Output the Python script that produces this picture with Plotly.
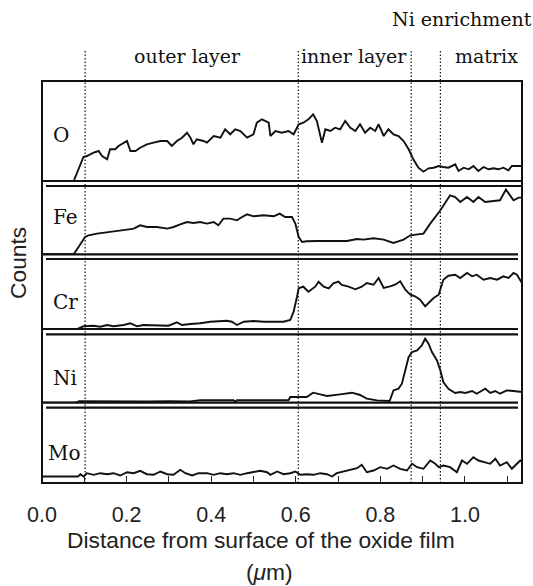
import plotly.graph_objects as go

# ---------------- data (x in um, counts in arbitrary units above each baseline) -------------
o_x = [0.0, 0.075, 0.098, 0.106, 0.122, 0.134, 0.142, 0.154, 0.161, 0.173, 0.181, 0.193, 0.201, 0.209,
       0.221, 0.232, 0.248, 0.264, 0.280, 0.296, 0.307, 0.319, 0.331, 0.343, 0.351, 0.358, 0.366, 0.382,
       0.390, 0.406, 0.422, 0.433, 0.445, 0.457, 0.469, 0.485, 0.500, 0.508, 0.520, 0.536, 0.540, 0.552,
       0.567, 0.583, 0.595, 0.607, 0.618, 0.630, 0.641, 0.650, 0.656, 0.662, 0.670, 0.682, 0.693, 0.705,
       0.717, 0.729, 0.741, 0.752, 0.764, 0.776, 0.788, 0.796, 0.808, 0.819, 0.831, 0.843, 0.855, 0.867,
       0.878, 0.890, 0.902, 0.914, 0.926, 0.938, 0.949, 0.961, 0.977, 0.985, 0.997, 1.009, 1.020, 1.032,
       1.044, 1.056, 1.068, 1.079, 1.091, 1.103, 1.111, 1.123, 1.135]
o_counts = [0, 0, 24, 25, 28.3, 30, 25, 21.7, 31.7, 31.7, 35, 38.3, 40, 30,
            30, 33.3, 36.7, 38.3, 40, 40, 35, 40, 43.3, 48.3, 43.3, 36.7, 41.7, 40,
            38.3, 45, 43.3, 51.7, 46.7, 51.7, 50, 43.3, 46.7, 58.3, 61.7, 58.3, 45, 50,
            48.3, 50, 46.7, 56.7, 58.3, 61.7, 66.7, 60, 50, 38.3, 51.7, 50, 53.3, 51.7,
            60, 53.3, 50, 56.7, 48.3, 53.3, 50, 56.7, 45, 51.7, 46.7, 45, 40, 31.7,
            21.7, 13.3, 9.3, 12.7, 13.3, 15, 14, 13.3, 16.7, 10, 13.3, 11.7, 15, 10,
            14, 11.7, 12.7, 11.7, 13.3, 10.7, 15, 15, 15]

fe_x = [0.0, 0.075, 0.102, 0.110, 0.130, 0.154, 0.177, 0.201, 0.217, 0.232, 0.248, 0.272, 0.296, 0.311,
        0.327, 0.343, 0.358, 0.374, 0.390, 0.406, 0.417, 0.429, 0.445, 0.461, 0.473, 0.485, 0.500, 0.524,
        0.548, 0.562, 0.575, 0.591, 0.599, 0.607, 0.615, 0.626, 0.650, 0.689, 0.721, 0.745, 0.760, 0.784,
        0.808, 0.831, 0.855, 0.871, 0.887, 0.902, 0.918, 0.942, 0.965, 0.977, 0.989, 1.005, 1.020, 1.032,
        1.048, 1.068, 1.083, 1.097, 1.107, 1.115, 1.127, 1.135]
fe_counts = [0, 0, 17.3, 19, 20.7, 22.3, 23.3, 24.7, 25.7, 29, 27.3, 27.3, 25.7, 27.3,
             30, 32.3, 31.3, 32.3, 30.7, 32.3, 29, 35.7, 35.7, 34, 37.3, 40, 38, 39,
             38, 40.7, 37.3, 37.3, 30.7, 17.3, 12.3, 13, 13.3, 13.3, 13.3, 15.3, 14.7, 16,
             14.7, 11.3, 14.7, 19, 20, 20.7, 30.7, 44, 59, 57.3, 52.3, 57.3, 52.3, 57.3,
             52.3, 53.3, 54, 64.7, 59, 54, 56.7, 56.7]

cr_x = [0.0, 0.083, 0.098, 0.122, 0.138, 0.154, 0.169, 0.193, 0.209, 0.225, 0.240, 0.272, 0.299, 0.319,
        0.331, 0.351, 0.374, 0.398, 0.422, 0.437, 0.449, 0.461, 0.477, 0.500, 0.524, 0.548, 0.571, 0.587,
        0.595, 0.603, 0.607, 0.618, 0.630, 0.646, 0.654, 0.666, 0.678, 0.689, 0.701, 0.709, 0.725, 0.741,
        0.756, 0.768, 0.784, 0.796, 0.808, 0.823, 0.835, 0.847, 0.859, 0.871, 0.882, 0.894, 0.906, 0.914,
        0.926, 0.938, 0.949, 0.961, 0.977, 0.989, 1.005, 1.017, 1.028, 1.044, 1.060, 1.076, 1.091, 1.103,
        1.115, 1.123, 1.131, 1.135]
cr_counts = [0, 0, 2.7, 3.3, 2.3, 4, 2.7, 4, 5.7, 2.7, 4, 3.3, 3.3, 6.7,
             4, 5, 5.7, 7.3, 8.3, 8.3, 7.3, 4, 7.3, 8, 7.3, 7.3, 7.3, 9,
             17.3, 32.3, 40.7, 42.3, 37.3, 42.3, 47.3, 42.3, 40.7, 45.7, 47.3, 44, 42.3, 39.7,
             42.3, 46, 44.3, 51, 41, 42.7, 44.3, 47.7, 39.3, 34.3, 32.7, 29.3, 22.7, 26,
             31, 34.3, 49.3, 53.3, 54.3, 51, 56, 52.7, 54.3, 49.3, 51, 49.3, 52.7, 51,
             56, 54.3, 47.7, 46]

ni_x = [0.0, 0.080, 0.088, 0.130, 0.200, 0.250, 0.300, 0.350, 0.374, 0.453, 0.457, 0.461, 0.583, 0.587,
        0.626, 0.641, 0.658, 0.674, 0.705, 0.733, 0.752, 0.768, 0.792, 0.812, 0.822, 0.831, 0.843, 0.851,
        0.859, 0.867, 0.875, 0.887, 0.898, 0.906, 0.914, 0.922, 0.934, 0.942, 0.949, 0.961, 0.977, 0.989,
        1.001, 1.017, 1.028, 1.048, 1.060, 1.072, 1.083, 1.099, 1.115, 1.131, 1.135]
ni_counts = [0, 0, 1.5, 1.3, 1.5, 1.2, 1.5, 1.3, 2.5, 2.5, 1, 2.5, 2.5, 5.7,
             5.7, 10, 8.3, 6.7, 8.3, 10, 7.7, 4, 2.3, 2.3, 1.7, 12.3, 14, 19,
             32.3, 45.7, 50.7, 52.3, 57.3, 64, 59, 50.7, 42.3, 32.3, 20.7, 14, 9.7, 10.7,
             9.7, 11.7, 9, 14, 9.7, 11.7, 9, 12.3, 11.7, 10.7, 10.7]

mo_x = [0.0, 0.085, 0.091, 0.098, 0.106, 0.122, 0.138, 0.154, 0.169, 0.185, 0.201, 0.217, 0.232, 0.248,
        0.264, 0.280, 0.296, 0.311, 0.327, 0.339, 0.355, 0.370, 0.390, 0.406, 0.422, 0.437, 0.453, 0.469,
        0.485, 0.500, 0.516, 0.532, 0.540, 0.556, 0.571, 0.587, 0.599, 0.611, 0.626, 0.642, 0.658, 0.674,
        0.686, 0.697, 0.713, 0.729, 0.745, 0.756, 0.768, 0.784, 0.800, 0.816, 0.831, 0.847, 0.863, 0.875,
        0.887, 0.902, 0.918, 0.930, 0.938, 0.949, 0.965, 0.981, 0.993, 1.005, 1.020, 1.032, 1.044, 1.060,
        1.072, 1.083, 1.099, 1.111, 1.123, 1.131, 1.135]
mo_counts = [0, 0, 2.3, 0, 3.3, 1.7, 3.3, 2.3, 3.3, 1, 4.3, 3.3, 5.7, 2.3,
             1.7, 5, 2.3, 1.7, 6.7, 3.3, 1, 3.3, 3.3, 1.7, 3.3, 2.3, 3.3, 1.7,
             3.3, 4.3, 5.7, 4.3, 1.7, 5, 2.3, 3.3, 5, 1.7, 2.3, 1.7, 3.3, 2.3,
             0, 3.3, 5, 6.7, 8.3, 11.7, 4.3, 6, 9.3, 7.7, 11, 7.7, 6, 12.7,
             9.3, 7.7, 16, 12.7, 9.3, 11, 9.3, 4.3, 16, 12.7, 19.3, 16, 14.3, 12.7,
             17.7, 11, 14.3, 7.7, 12.7, 16, 15]

elements = ["O", "Fe", "Cr", "Ni", "Mo"]
boundaries_um = [0.102, 0.606, 0.873, 0.942]
region_labels = ["outer layer", "inner layer", "matrix", "Ni enrichment"]
tick_vals = [0.0, 0.2, 0.4, 0.6, 0.8, 1.0]
tick_text = ["0.0", "0.2", "0.4", "0.6", "0.8", "1.0"]
x_title = "Distance from surface of the oxide film"
x_unit = "(<i>μ</i>m)"
y_title = "Counts"

series = [(o_x, o_counts), (fe_x, fe_counts), (cr_x, cr_counts), (ni_x, ni_counts), (mo_x, mo_counts)]

# ---------------- layout geometry (pixels) ----------------
W, H = 533, 586
L, R, T, B = 42, 522, 81, 483
def fx(X):
    return (X - L) / (R - L)
def fy(Y):
    return (B - Y) / (B - T)

# (top px, bottom px, baseline px) per panel
panels = [(81, 181, 181), (186, 254.3, 254.3), (259, 329, 329), (334.3, 402.7, 402.7), (407.7, 483, 476.5)]

fig = go.Figure()
for i, ((xs, ys), (top, bot, base)) in enumerate(zip(series, panels)):
    yname = "y" if i == 0 else f"y{i+1}"
    fig.add_trace(go.Scatter(x=xs, y=ys, mode="lines", xaxis="x", yaxis=yname,
                             line=dict(color="#111111", width=1.9), showlegend=False,
                             hoverinfo="skip"))
    key = "yaxis" if i == 0 else f"yaxis{i+1}"
    fig.layout[key] = dict(domain=[fy(bot), fy(top)], range=[-(bot - base), base - top],
                           anchor="x", showticklabels=False, showgrid=False, zeroline=False,
                           showline=False, ticks="", fixedrange=True)

fig.update_layout(
    width=W, height=H,
    margin=dict(l=L, r=W - R, t=T, b=H - B, pad=0),
    paper_bgcolor="white", plot_bgcolor="white",
    xaxis=dict(range=[0, 1.135], anchor="y5", showgrid=False, zeroline=False, showline=False,
               tickvals=tick_vals, ticktext=tick_text, ticks="inside", ticklen=7, tickwidth=1,
               tickcolor="#222", ticklabelstandoff=16,
               tickfont=dict(family="Liberation Sans, Arial, sans-serif", size=21.5, color="#222"),
               minor=dict(dtick=0.1, tick0=0, ticks="inside", ticklen=7, tickwidth=1, tickcolor="#222"),
               fixedrange=True),
)

shapes = []
lc = "#111111"
# frame
shapes.append(dict(type="rect", xref="paper", yref="paper", x0=0, x1=1, y0=0, y1=1,
                   line=dict(color=lc, width=2), layer="above"))
# double separator lines between panels
for k in range(4):
    base_px = panels[k][2]
    top_next = panels[k + 1][0]
    shapes.append(dict(type="line", xref="paper", yref="paper", x0=0, x1=1 if k == 0 else fx(518),
                       y0=fy(base_px), y1=fy(base_px), line=dict(color=lc, width=2.2)))
    shapes.append(dict(type="line", xref="paper", yref="paper", x0=fx(46), x1=1 if k == 0 else fx(518),
                       y0=fy(top_next), y1=fy(top_next), line=dict(color=lc, width=2.2)))
# dotted region boundaries
for b in boundaries_um:
    shapes.append(dict(type="line", xref="x", yref="paper", x0=b, x1=b, y0=0, y1=fy(50),
                       line=dict(color=lc, width=1.2, dash="1.5px,2px")))
fig.update_layout(shapes=shapes)

serif = "DejaVu Serif, serif"
sans = "Liberation Sans, Arial, sans-serif"
ann = []
label_pos = [(51, 135), (51, 217), (51, 302), (51, 378), (46, 453)]
for name, (X, Y) in zip(elements, label_pos):
    ann.append(dict(text=name, xref="paper", yref="paper", x=fx(X), y=fy(Y), xanchor="left",
                    yanchor="middle", showarrow=False, font=dict(family=serif, size=20, color="#111")))
region_pos = [(187, 56), (354, 56), (486, 56), (462, 19)]
for name, (X, Y) in zip(region_labels, region_pos):
    ann.append(dict(text=name, xref="paper", yref="paper", x=fx(X), y=fy(Y), xanchor="center",
                    yanchor="middle", showarrow=False, font=dict(family=serif, size=19, color="#111")))
ann.append(dict(text=x_title, xref="paper", yref="paper", x=fx(261), y=fy(540), xanchor="center",
                yanchor="middle", showarrow=False, font=dict(family=sans, size=22.8, color="#222")))
ann.append(dict(text=x_unit, xref="paper", yref="paper", x=fx(269), y=fy(572), xanchor="center",
                yanchor="middle", showarrow=False, font=dict(family=sans, size=22.8, color="#222")))
ann.append(dict(text=y_title, xref="paper", yref="paper", x=fx(18), y=fy(263), xanchor="center",
                yanchor="middle", textangle=-90, showarrow=False,
                font=dict(family=sans, size=22.8, color="#222")))
fig.update_layout(annotations=ann)

# remove the page's default body margin so the 533x586 figure fills the window exactly
fig.write_html("out.html", config={"displayModeBar": False},
               post_script="document.body.style.margin='0';document.body.style.overflow='hidden';")
